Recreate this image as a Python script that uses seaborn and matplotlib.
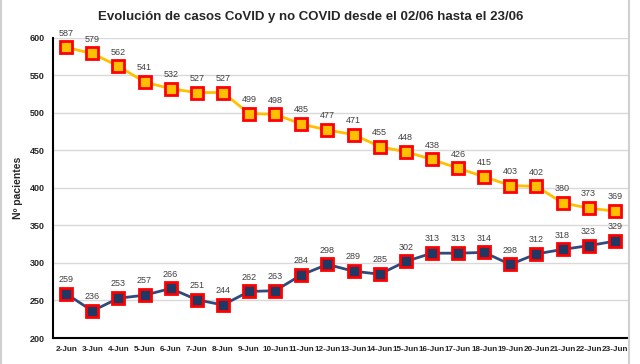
import pandas as pd
import numpy as np
import matplotlib
matplotlib.use("Agg")
import matplotlib.pyplot as plt
import seaborn as sns
from matplotlib.lines import Line2D

dias = [f"{d}-Jun" for d in range(2, 24)]
covid = [587, 579, 562, 541, 532, 527, 527, 499, 498, 485, 477, 471,
         455, 448, 438, 426, 415, 403, 402, 380, 373, 369]
no_covid = [259, 236, 253, 257, 266, 251, 244, 262, 263, 284, 298, 289,
            285, 302, 313, 313, 314, 298, 312, 318, 323, 329]

sns.set_style("white")
plt.rcParams['font.family'] = ['Liberation Sans', 'DejaVu Sans']

df = pd.DataFrame({'dia': dias, 'covid': covid, 'no_covid': no_covid})

fig = plt.figure(figsize=(6.4, 3.64), dpi=100)
ax = fig.add_axes([0.083, 0.0714, 0.898, 0.825])

amarillo = '#FFC000'
azul = '#2F4B7C'
for col, c_line, c_fill in [('covid', amarillo, amarillo), ('no_covid', azul, '#1F3864')]:
    sns.lineplot(data=df, x='dia', y=col, ax=ax, color=c_line, lw=2, marker='s',
                 markersize=8, markerfacecolor=c_fill, markeredgecolor='#FF0000',
                 markeredgewidth=2, sort=False, zorder=3)
    for i, v in enumerate(df[col]):
        ax.annotate(str(v), (i, v), xytext=(0, 7), textcoords='offset points',
                    ha='center', va='bottom', fontsize=6.5, color='#404040')

ax.set_ylim(200, 600)
ax.set_xlim(-0.5, len(dias) - 0.5)
ax.set_yticks(range(200, 601, 50))
ax.yaxis.grid(True, color='#d9d9d9', lw=1)
ax.set_axisbelow(True)
for s in ['top', 'right']:
    ax.spines[s].set_visible(False)
ax.spines['left'].set_color('black')
ax.spines['left'].set_linewidth(1.5)
ax.spines['bottom'].set_color('black')
ax.spines['bottom'].set_linewidth(1.5)

ax.set_xticks(range(len(dias)))
ax.set_xticklabels(dias, fontsize=5.9, fontweight='bold', color='#262626')
ax.tick_params(axis='x', length=0, pad=6)
ax.set_xticks(np.arange(-0.5, len(dias)), minor=True)
ax.tick_params(axis='x', which='minor', length=4, width=1.2, color='black', direction='out')
ax.tick_params(axis='y', length=0, labelsize=6.5, pad=6, labelcolor='#262626')
for lab in ax.get_yticklabels():
    lab.set_fontweight('bold')

ax.set_xlabel('')
ax.set_ylabel('Nº pacientes', fontsize=7.5, fontweight='bold', labelpad=5)
fig.suptitle('Evolución de casos CoVID y no COVID desde el 02/06 hasta el 23/06',
             x=0.485, y=0.97, fontsize=9.5, fontweight='bold', color='#262626')

fig.add_artist(Line2D([0.983, 0.983], [0, 1], color='#d0d0d0', lw=1.5))
fig.add_artist(Line2D([0.002, 0.002], [0, 1], color='#d0d0d0', lw=1.5))

fig.savefig('out.png', dpi=100)
